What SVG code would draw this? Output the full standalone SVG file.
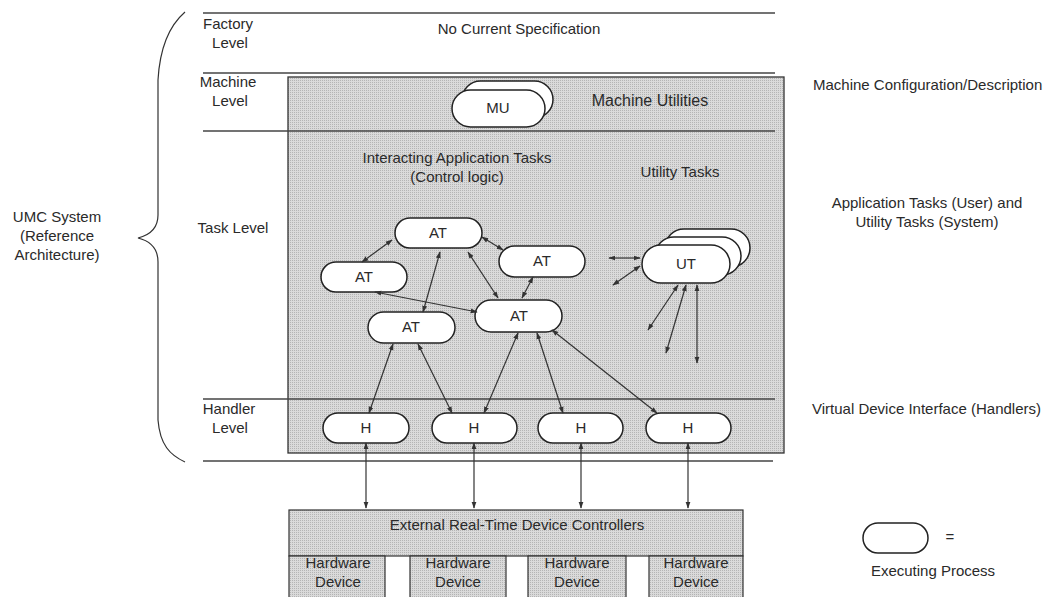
<svg xmlns="http://www.w3.org/2000/svg" width="1050" height="597" viewBox="0 0 1050 597">
<defs>
<style>
text{font-family:"Liberation Sans",Arial,sans-serif;font-size:15px;fill:#2a2a2a}
.c{text-anchor:middle}
.pill{fill:#fff;stroke:#222;stroke-width:1.5}
.hl{stroke:#444;stroke-width:1.3;fill:none}
.shade{fill:url(#stip);stroke:#333;stroke-width:1.3}
.ar{stroke:#333;stroke-width:1.2;fill:none;marker-start:url(#ah);marker-end:url(#ah)}
.hd{fill:url(#stip);stroke:#333;stroke-width:1.2}
</style>
<pattern id="stip" width="2" height="2" patternUnits="userSpaceOnUse">
<rect width="2" height="2" fill="#dadada"/>
<rect width="1" height="1" fill="#b4b4b4"/>
</pattern>
<marker id="ah" viewBox="0 0 10 10" refX="9" refY="5" markerWidth="7" markerHeight="7" markerUnits="userSpaceOnUse" orient="auto-start-reverse">
<path d="M0,1.5 L10,5 L0,8.5 z" fill="#333"/>
</marker>
</defs>
<rect width="1050" height="597" fill="#fff"/>

<g id="brace">
<path d="M185,12 C170,25 160,45 158,80 L158,215 C158,228 150,235 138,238 C150,241 158,248 158,262 L158,420 C160,445 170,455 185,462" fill="none" stroke="#333" stroke-width="1.2"/>
<text class="c" x="57" y="222">UMC System</text>
<text class="c" x="57" y="241">(Reference</text>
<text class="c" x="57" y="260">Architecture)</text>
</g>

<g id="system-box">
<rect class="shade" x="288" y="77" width="496" height="376"/>
</g>

<g id="level-lines">
<line class="hl" x1="203" y1="13" x2="775" y2="13"/>
<line class="hl" x1="203" y1="73" x2="775" y2="73"/>
<line class="hl" x1="203" y1="131" x2="775" y2="131"/>
<line class="hl" x1="203" y1="399" x2="775" y2="399"/>
<line class="hl" x1="203" y1="461" x2="773" y2="461"/>
</g>

<g id="level-labels">
<text class="c" x="228" y="29">Factory</text>
<text class="c" x="230" y="48">Level</text>
<text class="c" x="228" y="87">Machine</text>
<text class="c" x="230" y="106">Level</text>
<text class="c" x="233" y="233">Task Level</text>
<text class="c" x="229" y="414">Handler</text>
<text class="c" x="230" y="433">Level</text>
<text class="c" x="519" y="34">No Current Specification</text>
</g>

<g id="right-labels">
<text x="813" y="90">Machine Configuration/Description</text>
<text class="c" x="927" y="208">Application Tasks (User) and</text>
<text class="c" x="927" y="227">Utility Tasks (System)</text>
<text x="812" y="414">Virtual Device Interface (Handlers)</text>
</g>

<g id="MU">
<rect class="pill" x="462" y="81" width="91" height="37" rx="18.5"/>
<rect class="pill" x="452" y="90" width="93" height="37" rx="18.5"/>
<text class="c" x="498" y="113">MU</text>
<text class="c" x="650" y="106" style="font-size:16px">Machine Utilities</text>
</g>

<g id="task-labels">
<text class="c" x="457" y="163">Interacting Application Tasks</text>
<text class="c" x="457" y="182">(Control logic)</text>
<text class="c" x="680" y="177">Utility Tasks</text>
</g>

<g id="AT1"><rect class="pill" x="395" y="218" width="87" height="30" rx="15"/><text class="c" x="438" y="238">AT</text></g>
<g id="AT2"><rect class="pill" x="321" y="262" width="86" height="30" rx="15"/><text class="c" x="364" y="282">AT</text></g>
<g id="AT3"><rect class="pill" x="499" y="246" width="86" height="31" rx="15.5"/><text class="c" x="542" y="266">AT</text></g>
<g id="AT4"><rect class="pill" x="475" y="300" width="87" height="32" rx="16"/><text class="c" x="519" y="321">AT</text></g>
<g id="AT5"><rect class="pill" x="368" y="312" width="87" height="31" rx="15.5"/><text class="c" x="411" y="332">AT</text></g>

<g id="UT">
<rect class="pill" x="665" y="229" width="85" height="38" rx="19"/>
<rect class="pill" x="655" y="237" width="86" height="38" rx="19"/>
<rect class="pill" x="642" y="245" width="88" height="38" rx="19"/>
<text class="c" x="686" y="269">UT</text>
</g>

<g id="H1"><rect class="pill" x="323" y="413" width="86" height="30" rx="15"/><text class="c" x="366" y="433">H</text></g>
<g id="H2"><rect class="pill" x="432" y="413" width="85" height="30" rx="15"/><text class="c" x="474" y="433">H</text></g>
<g id="H3"><rect class="pill" x="538" y="413" width="85" height="30" rx="15"/><text class="c" x="581" y="433">H</text></g>
<g id="H4"><rect class="pill" x="646" y="413" width="85" height="30" rx="15"/><text class="c" x="688" y="433">H</text></g>

<g id="controllers">
<rect class="hd" x="289" y="510" width="454" height="46"/>
<text class="c" x="517" y="530">External Real-Time Device Controllers</text>
<rect class="hd" x="289" y="556" width="96" height="45"/>
<rect class="hd" x="410" y="556" width="96" height="45"/>
<rect class="hd" x="528" y="556" width="98" height="45"/>
<rect class="hd" x="649" y="556" width="94" height="45"/>
<text class="c" x="338" y="568">Hardware</text><text class="c" x="338" y="587">Device</text>
<text class="c" x="458" y="568">Hardware</text><text class="c" x="458" y="587">Device</text>
<text class="c" x="577" y="568">Hardware</text><text class="c" x="577" y="587">Device</text>
<text class="c" x="696" y="568">Hardware</text><text class="c" x="696" y="587">Device</text>
</g>

<g id="legend">
<rect class="pill" x="863" y="523" width="65" height="30" rx="15"/>
<text class="c" x="950" y="542">=</text>
<text class="c" x="933" y="576">Executing Process</text>
</g>

<g id="connectors">
<line class="ar" x1="362" y1="262" x2="392" y2="240"/>
<line class="ar" x1="482" y1="237" x2="503" y2="250"/>
<line class="ar" x1="440" y1="252" x2="423" y2="312"/>
<line class="ar" x1="468" y1="252" x2="498" y2="298"/>
<line class="ar" x1="533" y1="277" x2="522" y2="298"/>
<line class="ar" x1="375" y1="292" x2="477" y2="312"/>
<line class="ar" x1="393" y1="344" x2="369" y2="413"/>
<line class="ar" x1="418" y1="344" x2="452" y2="413"/>
<line class="ar" x1="518" y1="333" x2="484" y2="413"/>
<line class="ar" x1="537" y1="333" x2="563" y2="413"/>
<line class="ar" x1="552" y1="330" x2="657" y2="413"/>
<line class="ar" x1="609" y1="258" x2="640" y2="258"/>
<line class="ar" x1="613" y1="285" x2="640" y2="266"/>
<line class="ar" x1="678" y1="285" x2="648" y2="330"/>
<line class="ar" x1="686" y1="285" x2="666" y2="353"/>
<line class="ar" x1="697" y1="285" x2="697" y2="363"/>
<line class="ar" x1="366" y1="443" x2="366" y2="508"/>
<line class="ar" x1="474" y1="443" x2="474" y2="508"/>
<line class="ar" x1="581" y1="443" x2="581" y2="508"/>
<line class="ar" x1="688" y1="443" x2="688" y2="508"/>
</g>
</svg>
